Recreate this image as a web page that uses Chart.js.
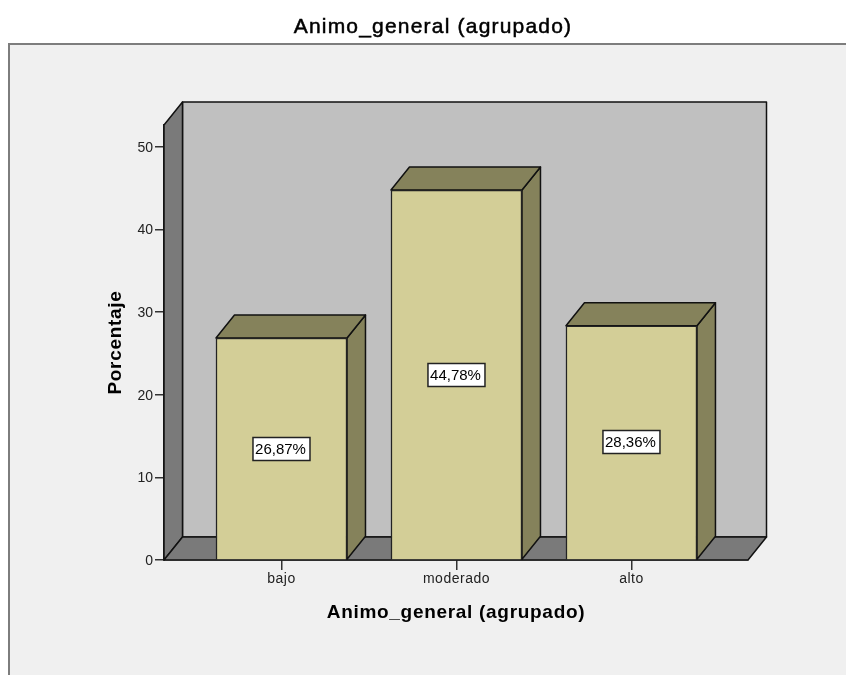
<!DOCTYPE html>
<html>
<head>
<meta charset="utf-8">
<style>
  html, body { margin: 0; padding: 0; background: #fff; }
  canvas { display: block; }
</style>
<script src="https://cdn.jsdelivr.net/npm/chart.js@4/dist/chart.umd.min.js"></script>
</head>
<body>
<canvas id="grafico" width="846" height="675"></canvas>
<script>
var categorias = ['bajo', 'moderado', 'alto'];
var porcentajes = [26.87, 44.78, 28.36];
var etiquetas = ['26,87%', '44,78%', '28,36%'];
var marcasY = [0, 10, 20, 30, 40, 50];
var titulo = 'Animo_general (agrupado)';

// depth of the fake 3D box, in px
var DX = 18.5, DY = 23;

function poly(ctx, pts, fill) {
  ctx.beginPath();
  ctx.moveTo(pts[0][0], pts[0][1]);
  for (var i = 1; i < pts.length; i++) ctx.lineTo(pts[i][0], pts[i][1]);
  ctx.closePath();
  ctx.fillStyle = fill;
  ctx.fill();
  ctx.stroke();
}

// the original has wider letter spacing than the font, chart.js has no option for it
function espaciar(scale, metodo, px) {
  var orig = scale[metodo];
  scale[metodo] = function () {
    scale.ctx.letterSpacing = px;
    orig.apply(scale, arguments);
    scale.ctx.letterSpacing = '0px';
  };
}

var fondo3d = {
  id: 'fondo3d',
  beforeDraw: function (chart) {
    var ctx = chart.ctx;
    ctx.save();
    ctx.fillStyle = '#f0f0f0';
    ctx.fillRect(8, 43, 838, 632);
    ctx.strokeStyle = '#7d7d7d';
    ctx.lineWidth = 2;
    ctx.beginPath();
    ctx.moveTo(9, 675);
    ctx.lineTo(9, 44);
    ctx.lineTo(846, 44);
    ctx.stroke();
    ctx.fillStyle = '#000';
    ctx.strokeStyle = '#000';
    ctx.lineWidth = 0.5;
    ctx.letterSpacing = '1.2px';
    ctx.font = '21px "Liberation Sans"';
    ctx.textAlign = 'center';
    ctx.textBaseline = 'middle';
    ctx.fillText(titulo, 433, 27);
    ctx.strokeText(titulo, 433, 27);
    ctx.letterSpacing = '0px';
    ctx.restore();
  },
  beforeDatasetsDraw: function (chart) {
    var ctx = chart.ctx, a = chart.chartArea;
    ctx.save();
    ctx.strokeStyle = '#111';
    ctx.lineWidth = 1.5;
    ctx.lineJoin = 'round';
    poly(ctx, [[a.left + DX, a.top - DY], [a.right + DX, a.top - DY], [a.right + DX, a.bottom - DY], [a.left + DX, a.bottom - DY]], '#c0c0c0');
    poly(ctx, [[a.left, a.top], [a.left + DX, a.top - DY], [a.left + DX, a.bottom - DY], [a.left, a.bottom]], '#7a7a7a');
    poly(ctx, [[a.left, a.bottom], [a.left + DX, a.bottom - DY], [a.right + DX, a.bottom - DY], [a.right, a.bottom]], '#7a7a7a');
    // bar sides and tops
    chart.getDatasetMeta(0).data.forEach(function (b) {
      var l = b.x - b.width / 2, r = b.x + b.width / 2;
      poly(ctx, [[r, b.y], [r + DX, b.y - DY], [r + DX, b.base - DY], [r, b.base]], '#85825b');
      poly(ctx, [[l, b.y], [l + DX, b.y - DY], [r + DX, b.y - DY], [r, b.y]], '#85825b');
    });
    ctx.restore();
  },
  afterDatasetsDraw: function (chart) {
    var ctx = chart.ctx;
    ctx.save();
    ctx.font = '15px "Liberation Sans"';
    ctx.textAlign = 'center';
    ctx.textBaseline = 'middle';
    chart.getDatasetMeta(0).data.forEach(function (b, i) {
      var cy = Math.round((b.y + b.base) / 2);
      var w = 57, h = 23;
      ctx.fillStyle = '#fff';
      ctx.strokeStyle = '#222';
      ctx.lineWidth = 1.5;
      ctx.fillRect(b.x - w / 2, cy - h / 2, w, h);
      ctx.strokeRect(b.x - w / 2, cy - h / 2, w, h);
      ctx.fillStyle = '#000';
      ctx.fillText(etiquetas[i], b.x - 1, cy + 1);
    });
    ctx.restore();
  }
};

var ctx = document.getElementById('grafico').getContext('2d');
var myChart = new Chart(ctx, {
  type: 'bar',
  data: {
    datasets: [{
      label: 'Porcentaje',
      data: porcentajes.map(function (v, i) { return { x: i, y: v }; }),
      backgroundColor: '#d3ce97',
      borderColor: '#222',
      borderWidth: 1.5,
      barThickness: 131
    }]
  },
  plugins: [fondo3d],
  options: {
    responsive: false,
    animation: false,
    layout: { padding: { top: 125, right: 98, bottom: 0, left: 0 } },
    plugins: { legend: { display: false }, tooltip: { enabled: false } },
    scales: {
      x: {
        type: 'linear',
        offset: false,
        min: -0.6714,
        max: 2.666,
        afterBuildTicks: function (s) {
          s.ticks = categorias.map(function (c, i) { return { value: i }; });
        },
        afterFit: function (s) {
          s.height = 115;
          espaciar(s, 'drawTitle', '0.7px');
          espaciar(s, 'drawLabels', '0.5px');
        },
        grid: { offset: false, drawOnChartArea: false, color: '#333', tickLength: 10, lineWidth: 1.5 },
        border: { color: '#222', width: 1.5 },
        ticks: {
          autoSkip: false,
          maxRotation: 0,
          padding: 1,
          color: '#222',
          font: { family: '"Liberation Sans"', size: 14 },
          callback: function (v, i) { return categorias[i]; }
        },
        title: {
          display: true,
          text: titulo,
          color: '#000',
          padding: { top: 0, bottom: 51 },
          font: { family: '"Liberation Sans"', size: 19, weight: 'bold' }
        }
      },
      y: {
        min: 0,
        max: 52.66,
        afterBuildTicks: function (s) {
          s.ticks = marcasY.map(function (v) { return { value: v }; });
        },
        afterFit: function (s) {
          s.width = 164;
          espaciar(s, 'drawTitle', '0.7px');
        },
        grid: { drawOnChartArea: false, color: '#333', tickLength: 9, lineWidth: 1.5 },
        border: { color: '#222', width: 1.5 },
        ticks: {
          padding: 2,
          labelOffset: 1,
          color: '#222',
          font: { family: '"Liberation Sans"', size: 14 }
        },
        title: {
          display: true,
          text: 'Porcentaje',
          color: '#000',
          padding: { top: 104, bottom: 0 },
          font: { family: '"Liberation Sans"', size: 19, weight: 'bold' }
        }
      }
    }
  }
});
</script>
</body>
</html>
